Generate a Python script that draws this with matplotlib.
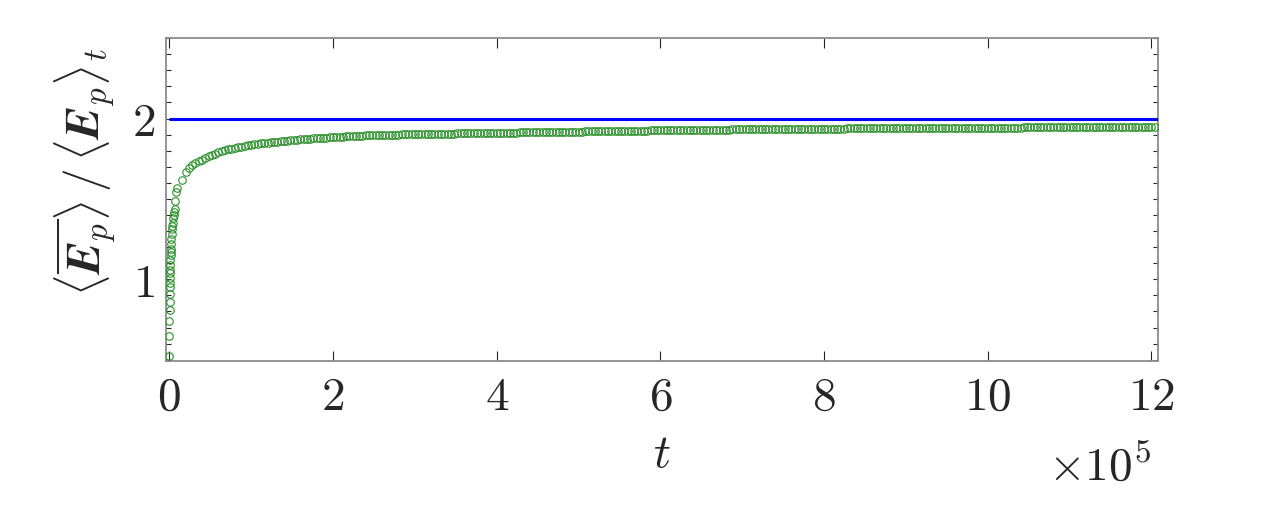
import numpy as np
import matplotlib
matplotlib.use("Agg")
import matplotlib.pyplot as plt
from matplotlib.ticker import FixedLocator, MultipleLocator

plt.rcParams['mathtext.fontset'] = 'cm'
plt.rcParams['font.family'] = ['DejaVu Serif']

# ---------------- data ----------------
# early, densely sampled part (time, ratio)
t_early = [0, 100, 200, 300, 400, 500, 600, 700, 800, 900, 1000, 1200, 1400,
           1600, 1800, 2000, 2300, 2600, 3000, 3400, 3800, 4200, 4700, 5200,
           5800, 6400, 7200, 8400, 9400]
ratio_early = [0.52, 0.65, 0.74, 0.81, 0.86, 0.91, 0.95, 0.98, 1.01, 1.04,
               1.06, 1.09, 1.12, 1.15, 1.17, 1.19, 1.22, 1.25, 1.28, 1.31,
               1.33, 1.35, 1.38, 1.40, 1.42, 1.44, 1.49, 1.544, 1.567]

# later part, sampled every dt_late starting at t_late0
t_late0 = 16000
dt_late = 4000
ratio_late = [
    1.617,
    1.668, 1.690, 1.708, 1.722, 1.734, 1.745, 1.755, 1.765, 1.774, 1.782,
    1.790, 1.796, 1.802, 1.808, 1.813, 1.818, 1.822, 1.826, 1.830, 1.833,
    1.836, 1.839, 1.842, 1.845, 1.848, 1.850, 1.852, 1.855, 1.857, 1.859,
    1.861, 1.863, 1.865, 1.867, 1.868, 1.870, 1.872, 1.873, 1.875, 1.876,
    1.878, 1.879, 1.881, 1.882, 1.884, 1.885, 1.886, 1.887, 1.888, 1.889,
    1.890, 1.891, 1.892, 1.893, 1.894, 1.895, 1.896, 1.896, 1.897, 1.898,
    1.898, 1.899, 1.899, 1.900, 1.900, 1.900, 1.901, 1.901, 1.902, 1.902,
    1.902, 1.903, 1.903, 1.904, 1.904, 1.904, 1.905, 1.905, 1.906, 1.906,
    1.906, 1.907, 1.907, 1.908, 1.908, 1.908, 1.909, 1.909, 1.909, 1.910,
    1.910, 1.910, 1.911, 1.911, 1.911, 1.912, 1.912, 1.912, 1.913, 1.913,
    1.913, 1.913, 1.914, 1.914, 1.914, 1.915, 1.915, 1.915, 1.916, 1.916,
    1.916, 1.916, 1.917, 1.917, 1.917, 1.918, 1.918, 1.918, 1.919, 1.919,
    1.919, 1.919, 1.920, 1.920, 1.920, 1.921, 1.921, 1.921, 1.922, 1.922,
    1.922, 1.922, 1.923, 1.923, 1.923, 1.924, 1.924, 1.924, 1.925, 1.925,
    1.925, 1.925, 1.926, 1.926, 1.926, 1.926, 1.927, 1.927, 1.927, 1.927,
    1.928, 1.928, 1.928, 1.928, 1.929, 1.929, 1.929, 1.929, 1.930, 1.930,
    1.930, 1.930, 1.930, 1.931, 1.931, 1.931, 1.931, 1.932, 1.932, 1.932,
    1.932, 1.932, 1.933, 1.933, 1.933, 1.933, 1.934, 1.934, 1.934, 1.934,
    1.934, 1.935, 1.935, 1.935, 1.935, 1.935, 1.936, 1.936, 1.936, 1.936,
    1.936, 1.937, 1.937, 1.937, 1.937, 1.937, 1.938, 1.938, 1.938, 1.938,
    1.938, 1.938, 1.939, 1.939, 1.939, 1.939, 1.939, 1.939, 1.940, 1.940,
    1.940, 1.940, 1.940, 1.940, 1.940, 1.941, 1.941, 1.941, 1.941, 1.941,
    1.941, 1.941, 1.941, 1.942, 1.942, 1.942, 1.942, 1.942, 1.942, 1.942,
    1.942, 1.942, 1.943, 1.943, 1.943, 1.943, 1.943, 1.943, 1.943, 1.943,
    1.943, 1.943, 1.944, 1.944, 1.944, 1.944, 1.944, 1.944, 1.944, 1.944,
    1.944, 1.944, 1.944, 1.944, 1.944, 1.944, 1.945, 1.945, 1.945, 1.945,
    1.945, 1.945, 1.945, 1.945, 1.945, 1.945, 1.945, 1.945, 1.945, 1.945,
    1.945, 1.945, 1.945, 1.945, 1.945, 1.945, 1.945, 1.945, 1.945, 1.945,
    1.945, 1.945, 1.945, 1.945, 1.945, 1.945, 1.945, 1.945, 1.945, 1.945,
    1.945, 1.945, 1.945, 1.945, 1.945, 1.945, 1.945,
]

ref_level = 2.0  # horizontal reference line

x_ticks = [0, 2, 4, 6, 8, 10, 12]          # in units of 1e5
x_ticklabels = ['$0$', '$2$', '$4$', '$6$', '$8$', '$10$', '$12$']
y_ticks = [1, 2]
y_ticklabels = ['$1$', '$2$']

# ---------------- plot ----------------
t_late = t_late0 + dt_late * np.arange(len(ratio_late))
t_all = np.concatenate([np.asarray(t_early, float), t_late])
r_all = np.concatenate([np.asarray(ratio_early, float), np.asarray(ratio_late, float)])

fig = plt.figure(figsize=(12.8, 5.07), dpi=100)
ax = fig.add_axes([0.1297, 0.288, 0.7750, 0.6367])

green = '#2a8f2a'
ax.plot(t_all, r_all, linestyle='none', marker='o', markersize=5.4,
        markerfacecolor='none', markeredgecolor=green, markeredgewidth=0.8,
        zorder=3)
ax.hlines(ref_level, t_all[0], 1.208e6, colors='#0000ff', linewidth=2.2, zorder=4)

ax.set_xlim(-4000, 1.208e6)
ax.set_ylim(0.492, 2.5)

scale = 1e5
ax.xaxis.set_major_locator(FixedLocator([v * scale for v in x_ticks]))
ax.set_xticklabels(x_ticklabels)
ax.yaxis.set_major_locator(FixedLocator(y_ticks))
ax.set_yticklabels(y_ticklabels)
ax.yaxis.set_minor_locator(MultipleLocator(0.1))

tick_col = '#262626'
fs = 34
ax.tick_params(axis='x', which='major', direction='in', length=7, width=0.8,
               top=True, bottom=True, color=tick_col, labelsize=fs,
               labelcolor=tick_col, pad=10)
ax.tick_params(axis='y', which='both', direction='in', length=3.6, width=0.8,
               left=True, right=True, color=tick_col, labelsize=fs,
               labelcolor=tick_col, pad=8)

for s in ax.spines.values():
    s.set_color('#8c8c8c')
    s.set_linewidth(1.3)

ax.set_xlabel('$t$', fontsize=fs, color=tick_col, labelpad=8)
ax.set_ylabel(r'$\langle\overline{\boldsymbol{E}_p}\rangle\,/\,\langle\boldsymbol{E}_p\rangle_t$',
              fontsize=34, color=tick_col)
ax.yaxis.set_label_coords(-0.048, 0.585)

fig.text(0.859, 0.08, r'$\times10^5$', fontsize=fs, color=tick_col,
         ha='center', va='center')

fig.savefig('out.png', dpi=100)
